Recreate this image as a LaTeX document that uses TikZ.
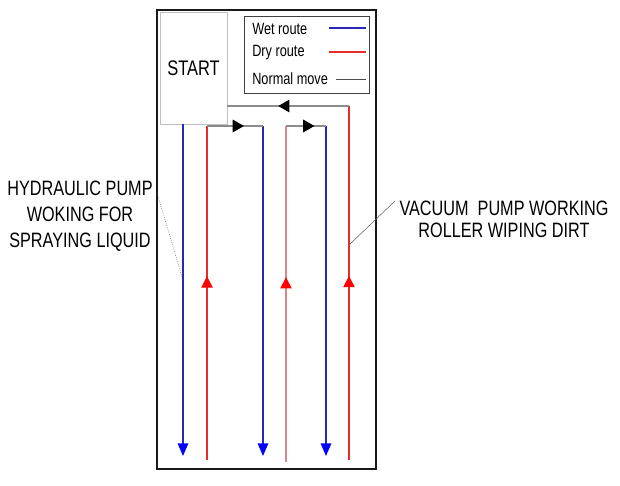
\documentclass[tikz,border=0pt]{standalone}
\usepackage{fontspec}
\setmainfont{Liberation Sans}[FakeStretch=0.78]
\usetikzlibrary{arrows.meta,decorations.markings}
\definecolor{wetblue}{RGB}{40,40,180}
\definecolor{dryred}{RGB}{230,45,45}
\definecolor{drypink}{RGB}{215,135,135}
\tikzset{
  wet/.style={wetblue, line width=1pt, -{Triangle[length=9pt,width=7.5pt,color=blue]}},
  dry/.style={line width=1pt, postaction={decorate}, decoration={markings,
      mark=at position #1 with {\arrow[red]{Triangle[length=8pt,width=8pt]}}}},
  normal/.style={black!45, line width=0.9pt, postaction={decorate}, decoration={markings,
      mark=at position #1 with {\arrow[black]{Triangle[length=8pt,width=9pt]}}}},
  biglabel/.style={font=\fontsize{14.8}{18.5}\selectfont, align=center, inner sep=0pt},
  keytext/.style={font=\fontsize{11.6}{13}\selectfont, anchor=west, inner sep=0pt}
}
\begin{document}
\begin{tikzpicture}[x=0.025cm, y=-0.025cm]
                    \useasboundingbox (0,0) rectangle (620,486);
                    % field and start area
                    \draw[line width=1.4pt, black!90] (157,10) rectangle (376,469);
                    \node[draw=black!25, minimum width=1.675cm, minimum height=2.8cm,
                          font=\fontsize{15}{17}\selectfont] (start) at (193.5,68) {START};
                    
                    % legend
                    \node[draw=black!75, minimum width=3.125cm, minimum height=1.925cm] (legend) at (306.5,54.5) {};
                    \node[keytext] (wetkey) at (252,29) {Wet route};
                    \node[keytext] (drykey) at (252,53) {Dry route};
                    \node[keytext] (movekey) at (252,79) {Normal move};
                    \draw[wetblue, line width=0.9pt] (329,28) -- (366,28);
                    \draw[dryred, line width=0.9pt] (329,52) -- (366,52);
                    \draw[black!70] (336,79) -- (366,79);
                    
                    % lane ends
                    \coordinate (b1t) at (183,124); \coordinate (b1b) at (183,456);
                    \coordinate (r1b) at (207,460); \coordinate (r1t) at (207,126);
                    \coordinate (b2t) at (263,126); \coordinate (b2b) at (263,456);
                    \coordinate (r2b) at (286,462); \coordinate (r2t) at (286,126);
                    \coordinate (b3t) at (326,126); \coordinate (b3b) at (326,456);
                    \coordinate (r3b) at (349,460); \coordinate (r3t) at (349,106);
                    \coordinate (back) at (227,106);
                    
                    % wet route going down
                    \draw[wet] (b1t) -- (b1b);
                    \draw[wet] (b2t) -- (b2b);
                    \draw[wet] (b3t) -- (b3b);
                    
                    % dry route coming up
                    \draw[dryred, dry=0.55] (r1b) -- (r1t);
                    \draw[drypink, dry=0.55] (r2b) -- (r2t);
                    \draw[dryred, dry=0.52] (r3b) -- (r3t);
                    
                    % normal moves between lanes
                    \draw[normal=0.66] (r1t) -- (b2t);
                    \draw[normal=0.71] (r2t) -- (b3t);
                    \draw[normal=0.58] (r3t) -- (back);
                    
                    % pump labels
                    \node[biglabel] (hydro) at (80,216) {HYDRAULIC PUMP\\WOKING FOR\\SPRAYING LIQUID};
                    \node[biglabel, font=\fontsize{14.8}{15.5}\selectfont] (vacuum) at (504,219) {VACUUM\ \ PUMP WORKING\\ROLLER WIPING DIRT};
                    \coordinate (hydrotip) at (157,193);
                    \coordinate (wetpt) at (183,280);
                    \coordinate (vacuumtip) at (395,201);
                    \coordinate (drypt) at (349,245);
                    \draw[black!70, thin, densely dotted] (hydrotip) -- (wetpt);
                    \draw[black!60, thin] (drypt) -- (vacuumtip);
                \end{tikzpicture}
\end{document}
